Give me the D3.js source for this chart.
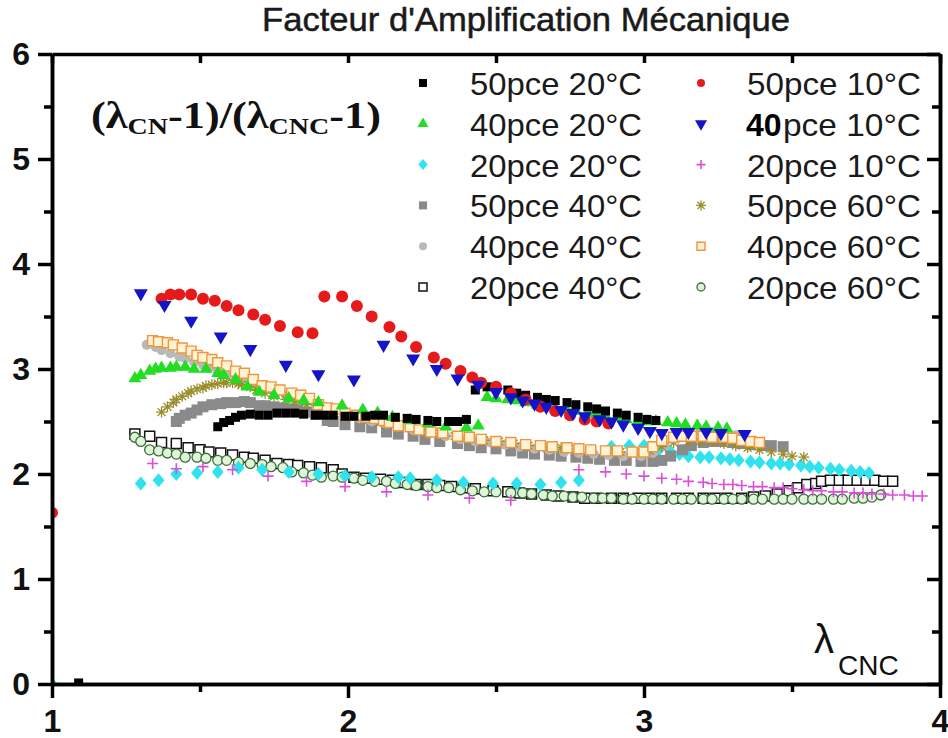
<!DOCTYPE html>
<html><head><meta charset="utf-8">
<script src="https://cdn.jsdelivr.net/npm/d3@7"></script>
<style>body{margin:0;background:#fff}svg{display:block}</style>
</head><body><svg id="c" width="948" height="738"></svg>
<script>
// ---------- DATA ----------
const chartTitle = "Facteur d'Amplification Mécanique";
const xMajorTicks = [1, 2, 3, 4];
const xMinorTicks = [1.5, 2.5, 3.5];
const yMajorTicks = [0, 1, 2, 3, 4, 5, 6];
const yMinorTicks = [0.5, 1.5, 2.5, 3.5, 4.5, 5.5];
const legendLeft = ["50pce 20°C", "40pce 20°C", "20pce 20°C", "50pce 40°C", "40pce 40°C", "20pce 40°C"];
const legendRight = ["50pce 10°C", "40pce 10°C", "20pce 10°C", "50pce 60°C", "40pce 60°C", "20pce 60°C"];

const s50_20 = [[1.09,0.01],[1.56,2.45],[1.58,2.49],[1.60,2.51],[1.62,2.54],[1.64,2.56],[1.67,2.57],[1.70,2.56],[1.73,2.56],[1.76,2.58],[1.79,2.58],[1.82,2.58],[1.85,2.57],[1.89,2.56],[1.92,2.56],[1.95,2.56],[1.99,2.55],[2.02,2.55],[2.06,2.55],[2.09,2.56],[2.12,2.56],[2.16,2.54],[2.20,2.53],[2.23,2.52],[2.27,2.51],[2.30,2.50],[2.34,2.50],[2.37,2.50],[2.40,2.52],[2.43,2.80],[2.47,2.83],[2.50,2.82],[2.54,2.80],[2.57,2.77],[2.60,2.75],[2.64,2.73],[2.67,2.71],[2.70,2.70],[2.74,2.68],[2.77,2.66],[2.81,2.64],[2.84,2.62],[2.87,2.60],[2.91,2.58],[2.94,2.56],[2.98,2.54],[3.01,2.52],[3.04,2.51]];
const s40_20 = [[1.28,2.91],[1.30,2.94],[1.33,2.98],[1.35,3.00],[1.37,3.01],[1.40,3.01],[1.42,3.02],[1.45,3.02],[1.48,3.00],[1.52,3.00],[1.56,2.96],[1.58,2.94],[1.62,2.90],[1.66,2.83],[1.70,2.78],[1.75,2.75],[1.80,2.72],[1.85,2.70],[1.90,2.68],[1.98,2.65],[2.05,2.61],[2.10,2.58],[2.15,2.54],[2.21,2.51],[2.27,2.48],[2.33,2.45],[2.40,2.44],[2.44,2.46],[2.47,2.73],[2.50,2.72],[2.54,2.71],[2.57,2.70],[2.60,2.68],[2.64,2.66],[2.67,2.65],[2.70,2.63],[2.74,2.61],[2.77,2.60],[2.81,2.58],[2.84,2.57],[2.87,2.55],[2.91,2.54],[2.94,2.52],[2.98,2.51],[3.01,2.50],[3.04,2.50],[3.08,2.49],[3.11,2.48],[3.14,2.47],[3.18,2.46],[3.21,2.45],[3.25,2.44],[3.28,2.43]];
const s20_20 = [[1.00,0.00],[1.30,1.91],[1.36,1.94],[1.42,2.00],[1.49,2.01],[1.56,2.02],[1.63,2.06],[1.71,2.04],[1.80,2.02],[1.90,2.00],[1.99,1.98],[2.08,1.97],[2.17,1.97],[2.21,1.96],[2.30,1.94],[2.39,1.92],[2.49,1.91],[2.57,1.91],[2.65,1.90],[2.72,1.92],[2.78,1.94],[2.89,2.26],[2.95,2.27],[3.00,2.27],[3.05,2.23],[3.09,2.21],[3.12,2.19],[3.15,2.17],[3.19,2.16],[3.22,2.16],[3.26,2.15],[3.29,2.14],[3.32,2.13],[3.36,2.12],[3.39,2.11],[3.43,2.10],[3.46,2.10],[3.49,2.09],[3.53,2.08],[3.56,2.07],[3.59,2.06],[3.63,2.05],[3.66,2.04],[3.70,2.03],[3.73,2.02],[3.76,2.01]];
const s50_40 = [[1.42,2.50],[1.43,2.53],[1.45,2.56],[1.47,2.58],[1.49,2.61],[1.51,2.64],[1.54,2.66],[1.57,2.67],[1.59,2.68],[1.62,2.68],[1.65,2.69],[1.67,2.68],[1.70,2.65],[1.72,2.65],[1.75,2.64],[1.78,2.63],[1.81,2.62],[1.83,2.61],[1.86,2.59],[1.89,2.57],[1.93,2.51],[1.95,2.50],[1.99,2.47],[2.04,2.45],[2.08,2.44],[2.13,2.40],[2.17,2.38],[2.22,2.36],[2.26,2.33],[2.31,2.31],[2.37,2.29],[2.41,2.27],[2.45,2.25],[2.50,2.24],[2.55,2.22],[2.59,2.20],[2.63,2.19],[2.68,2.18],[2.72,2.17],[2.77,2.16],[2.81,2.15],[2.85,2.14],[2.90,2.13],[2.94,2.13],[2.99,2.12],[3.03,2.12],[3.06,2.13],[3.09,2.17],[3.13,2.23],[3.16,2.27],[3.20,2.30],[3.23,2.31],[3.26,2.31],[3.30,2.30],[3.33,2.29],[3.36,2.28],[3.40,2.27],[3.43,2.27],[3.47,2.26]];
const s40_40 = [[1.32,3.23],[1.35,3.21],[1.37,3.18],[1.40,3.15],[1.43,3.12],[1.45,3.10],[1.48,3.07],[1.51,3.04],[1.53,3.01],[1.56,2.98],[1.59,2.95],[1.62,2.92],[1.64,2.90],[1.67,2.87],[1.70,2.84],[1.72,2.81],[1.75,2.78],[1.79,2.75],[1.82,2.72],[1.85,2.70],[1.89,2.67],[1.92,2.64],[1.95,2.61],[1.99,2.57],[2.04,2.53],[2.08,2.50],[2.13,2.48],[2.17,2.45],[2.22,2.42],[2.28,2.39],[2.33,2.36],[2.38,2.33],[2.43,2.31],[2.48,2.30],[2.53,2.28],[2.58,2.26],[2.63,2.24],[2.68,2.23],[2.73,2.21],[2.78,2.20],[2.83,2.19],[2.88,2.18],[2.93,2.17],[2.99,2.17],[3.03,2.20],[3.07,2.27],[3.11,2.34],[3.15,2.38],[3.19,2.40],[3.23,2.40],[3.27,2.39],[3.31,2.37]];
const s20_40 = [[1.28,2.38],[1.33,2.36],[1.37,2.30],[1.42,2.29],[1.46,2.25],[1.50,2.23],[1.53,2.21],[1.57,2.20],[1.61,2.18],[1.65,2.16],[1.68,2.15],[1.72,2.13],[1.76,2.10],[1.80,2.09],[1.83,2.08],[1.87,2.07],[1.91,2.06],[1.95,2.04],[1.98,2.00],[2.02,1.97],[2.06,1.96],[2.11,1.95],[2.15,1.94],[2.18,1.92],[2.23,1.90],[2.27,1.90],[2.31,1.89],[2.35,1.88],[2.39,1.87],[2.43,1.86],[2.49,1.84],[2.54,1.83],[2.58,1.82],[2.62,1.81],[2.67,1.80],[2.71,1.79],[2.76,1.78],[2.80,1.77],[2.84,1.77],[2.89,1.77],[2.93,1.77],[2.98,1.77],[3.02,1.77],[3.06,1.77],[3.11,1.77],[3.15,1.77],[3.20,1.77],[3.24,1.77],[3.28,1.77],[3.33,1.77],[3.37,1.78],[3.41,1.79],[3.45,1.81],[3.49,1.84],[3.52,1.87],[3.55,1.90],[3.58,1.91],[3.60,1.93],[3.63,1.94],[3.66,1.94],[3.69,1.94],[3.72,1.94],[3.75,1.94],[3.78,1.94],[3.81,1.93],[3.84,1.93]];
const s50_10 = [[1.00,1.63],[1.37,3.67],[1.40,3.71],[1.43,3.71],[1.47,3.71],[1.51,3.67],[1.55,3.65],[1.59,3.60],[1.63,3.56],[1.68,3.52],[1.72,3.47],[1.77,3.41],[1.83,3.35],[1.88,3.34],[1.92,3.69],[1.98,3.69],[2.03,3.60],[2.08,3.50],[2.14,3.40],[2.18,3.31],[2.23,3.21],[2.29,3.11],[2.33,3.05],[2.38,2.98],[2.42,2.92],[2.45,2.87],[2.50,2.83],[2.55,2.77],[2.60,2.71],[2.65,2.64],[2.70,2.60],[2.75,2.56],[2.80,2.52],[2.84,2.50],[2.88,2.48]];
const s40_10 = [[1.30,3.72],[1.38,3.61],[1.47,3.46],[1.57,3.31],[1.67,3.19],[1.79,3.04],[1.90,2.95],[2.02,2.90],[2.12,3.23],[2.22,3.10],[2.30,3.00],[2.37,2.91],[2.44,2.85],[2.50,2.78],[2.55,2.73],[2.59,2.70],[2.63,2.67],[2.67,2.64],[2.72,2.61],[2.76,2.58],[2.80,2.55],[2.85,2.52],[2.89,2.50],[2.93,2.47],[2.98,2.44],[3.02,2.41],[3.06,2.39],[3.11,2.40],[3.15,2.40],[3.21,2.40],[3.26,2.39],[3.34,2.38]];
const s20_10 = [[1.34,2.10],[1.42,2.05],[1.51,2.07],[1.61,2.04],[1.73,1.98],[1.86,1.93],[1.99,1.88],[2.13,1.83],[2.27,1.80],[2.41,1.77],[2.55,1.75],[2.78,2.04],[2.87,2.02],[2.94,2.00],[3.00,1.98],[3.06,1.96],[3.11,1.95],[3.15,1.93],[3.20,1.92],[3.23,1.91],[3.27,1.90],[3.30,1.90],[3.33,1.89],[3.37,1.88],[3.40,1.88],[3.44,1.87],[3.47,1.87],[3.50,1.86],[3.54,1.85],[3.57,1.84],[3.60,1.84],[3.64,1.83],[3.67,1.83],[3.71,1.82],[3.74,1.82],[3.77,1.81],[3.81,1.81],[3.84,1.80],[3.88,1.80],[3.91,1.79],[3.94,1.79]];
const s50_60 = [[1.37,2.59],[1.39,2.64],[1.41,2.68],[1.42,2.71],[1.44,2.74],[1.46,2.77],[1.47,2.79],[1.49,2.81],[1.51,2.82],[1.52,2.84],[1.54,2.85],[1.56,2.86],[1.58,2.87],[1.59,2.87],[1.61,2.87],[1.63,2.86],[1.64,2.85],[1.67,2.83],[1.69,2.80],[1.72,2.77],[1.75,2.74],[1.79,2.71],[1.82,2.69],[1.86,2.66],[1.90,2.63],[1.95,2.59],[2.00,2.56],[2.06,2.53],[2.11,2.50],[2.16,2.48],[2.21,2.45],[2.26,2.42],[2.31,2.39],[2.36,2.36],[2.41,2.34],[2.46,2.32],[2.51,2.31],[2.56,2.29],[2.61,2.27],[2.66,2.26],[2.72,2.25],[2.77,2.24],[2.82,2.23],[2.87,2.22],[2.92,2.21],[2.97,2.21],[3.02,2.22],[3.06,2.26],[3.10,2.30],[3.15,2.31],[3.19,2.31],[3.23,2.31],[3.27,2.29],[3.31,2.27],[3.35,2.25],[3.39,2.23],[3.43,2.21],[3.47,2.19],[3.50,2.17],[3.54,2.16]];
const s40_60 = [[1.34,3.27],[1.36,3.26],[1.39,3.25],[1.41,3.23],[1.44,3.20],[1.47,3.17],[1.49,3.13],[1.51,3.11],[1.54,3.09],[1.56,3.06],[1.59,3.03],[1.62,2.98],[1.65,2.96],[1.68,2.90],[1.71,2.84],[1.74,2.83],[1.77,2.80],[1.81,2.77],[1.84,2.75],[1.87,2.72],[1.90,2.66],[1.93,2.63],[1.96,2.62],[1.99,2.58],[2.03,2.56],[2.06,2.54],[2.09,2.53],[2.12,2.51],[2.14,2.49],[2.17,2.46],[2.21,2.45],[2.24,2.42],[2.28,2.40],[2.32,2.39],[2.37,2.36],[2.41,2.35],[2.45,2.33],[2.50,2.31],[2.55,2.30],[2.60,2.28],[2.65,2.27],[2.69,2.26],[2.74,2.25],[2.78,2.24],[2.82,2.23],[2.87,2.22],[2.91,2.22],[2.96,2.21],[3.00,2.21],[3.03,2.26],[3.06,2.32],[3.10,2.35],[3.13,2.36],[3.16,2.36],[3.20,2.36],[3.23,2.35],[3.27,2.35],[3.30,2.34],[3.33,2.32],[3.36,2.31],[3.39,2.30]];
const s20_60 = [[1.28,2.35],[1.30,2.31],[1.33,2.23],[1.36,2.22],[1.39,2.20],[1.42,2.19],[1.45,2.16],[1.49,2.16],[1.52,2.15],[1.56,2.13],[1.59,2.13],[1.63,2.11],[1.67,2.10],[1.71,2.09],[1.74,2.07],[1.78,2.06],[1.81,2.02],[1.85,2.01],[1.88,1.99],[1.91,1.97],[1.95,1.98],[1.98,1.97],[2.02,1.96],[2.05,1.94],[2.09,1.93],[2.13,1.93],[2.16,1.91],[2.20,1.90],[2.23,1.89],[2.27,1.88],[2.30,1.87],[2.34,1.87],[2.38,1.85],[2.42,1.84],[2.46,1.83],[2.50,1.83],[2.55,1.82],[2.59,1.82],[2.62,1.81],[2.66,1.80],[2.69,1.79],[2.73,1.79],[2.76,1.78],[2.79,1.78],[2.83,1.77],[2.86,1.77],[2.89,1.77],[2.93,1.76],[2.96,1.76],[3.00,1.76],[3.03,1.76],[3.06,1.76],[3.10,1.76],[3.13,1.76],[3.16,1.76],[3.20,1.76],[3.23,1.76],[3.27,1.76],[3.30,1.76],[3.33,1.76],[3.37,1.76],[3.40,1.76],[3.44,1.76],[3.47,1.76],[3.50,1.76],[3.54,1.76],[3.57,1.76],[3.60,1.76],[3.64,1.76],[3.67,1.76],[3.71,1.77],[3.74,1.77],[3.77,1.78],[3.80,1.80]];

// ---------- CHART ----------
const svg = d3.select("#c");
const x = d3.scaleLinear().domain([1, 4]).range([52, 940]);
const y = d3.scaleLinear().domain([0, 6]).range([684, 54]);

const series = [
  {name: "20pce 40°C", data: s20_40, shape: "square", size: 10, fill: "#ffffff", stroke: "#111", sw: 1.5},
  {name: "20pce 60°C", data: s20_60, shape: "circle", size: 10, fill: "#dff5d8", stroke: "#3b6e3b", sw: 1.3},
  {name: "20pce 20°C", data: s20_20, shape: "diamond", size: 14, fill: "#2ee3ee", stroke: "none", sw: 0},
  {name: "20pce 10°C", data: s20_10, shape: "plus", size: 11, fill: "none", stroke: "#d84fd8", sw: 1.6},
  {name: "50pce 40°C", data: s50_40, shape: "square", size: 11, fill: "#8a8a8a", stroke: "none", sw: 0},
  {name: "40pce 40°C", data: s40_40, shape: "circle", size: 10, fill: "#b9b9b9", stroke: "none", sw: 0},
  {name: "50pce 60°C", data: s50_60, shape: "asterisk", size: 11, fill: "none", stroke: "#9b8d2a", sw: 1.3},
  {name: "40pce 60°C", data: s40_60, shape: "square", size: 10, fill: "#fff3d6", stroke: "#f0953c", sw: 1.4},
  {name: "40pce 20°C", data: s40_20, shape: "triUp", size: 13, fill: "#22dd22", stroke: "none", sw: 0},
  {name: "50pce 20°C", data: s50_20, shape: "square", size: 9, fill: "#000", stroke: "none", sw: 0},
  {name: "50pce 10°C", data: s50_10, shape: "circle", size: 12, fill: "#e61a1a", stroke: "none", sw: 0},
  {name: "40pce 10°C", data: s40_10, shape: "triDown", size: 14, fill: "#1414c8", stroke: "none", sw: 0}
];

function markerPath(shape, s) {
  const h = s / 2;
  switch (shape) {
    case "square": return `M${-h},${-h}H${h}V${h}H${-h}Z`;
    case "circle": return `M${h},0A${h},${h} 0 1,1 ${-h},0A${h},${h} 0 1,1 ${h},0Z`;
    case "diamond": return `M0,${-h}L${h*0.85},0L0,${h}L${-h*0.85},0Z`;
    case "triUp": { const t = s * 0.866; return `M0,${-t*2/3}L${h},${t/3}L${-h},${t/3}Z`; }
    case "triDown": { const t = s * 0.866; return `M0,${t*2/3}L${h},${-t/3}L${-h},${-t/3}Z`; }
    case "plus": return `M${-h},0H${h}M0,${-h}V${h}`;
    case "asterisk": { const d = h * 0.72; return `M${-h},0H${h}M0,${-h}V${h}M${-d},${-d}L${d},${d}M${-d},${d}L${d},${-d}`; }
  }
}

svg.append("defs").append("clipPath").attr("id", "clip")
  .append("rect").attr("x", 52).attr("y", 54).attr("width", 888).attr("height", 630);

const plot = svg.append("g").attr("clip-path", "url(#clip)");
series.forEach(s => {
  plot.append("g").selectAll("path").data(s.data).join("path")
    .attr("d", markerPath(s.shape, s.size))
    .attr("transform", d => `translate(${x(d[0])},${y(d[1])})`)
    .attr("fill", s.fill).attr("stroke", s.stroke).attr("stroke-width", s.sw);
});

// ---------- AXES ----------
const axisStyle = g => {
  g.selectAll("path.domain").attr("stroke", "#000").attr("stroke-width", 3.5);
  g.selectAll(".tick line").attr("stroke", "#000").attr("stroke-width", 3.5);
  g.selectAll(".tick text").attr("font-family", "Arial, 'Liberation Sans', sans-serif")
    .attr("font-weight", "bold").attr("font-size", 32).attr("fill", "#111");
};
svg.append("g").attr("transform", "translate(0,684)")
  .call(d3.axisBottom(x).tickValues(xMinorTicks).tickSize(8).tickSizeOuter(0).tickFormat(""))
  .call(axisStyle);
svg.append("g").attr("transform", "translate(0,684)")
  .call(d3.axisBottom(x).tickValues(xMajorTicks).tickSize(14).tickSizeOuter(0).tickPadding(11).tickFormat(d3.format("d")))
  .call(axisStyle);
svg.append("g").attr("transform", "translate(52,0)")
  .call(d3.axisLeft(y).tickValues(yMinorTicks).tickSize(8).tickSizeOuter(0).tickFormat(""))
  .call(axisStyle);
svg.append("g").attr("transform", "translate(52,0)")
  .call(d3.axisLeft(y).tickValues(yMajorTicks).tickSize(14).tickSizeOuter(0).tickPadding(8).tickFormat(d3.format("d")))
  .call(axisStyle);
svg.append("g").attr("transform", "translate(0,54)")
  .call(d3.axisBottom(x).tickValues(xMajorTicks.concat(xMinorTicks)).tickSize(9).tickSizeOuter(0).tickFormat(""))
  .call(axisStyle);
svg.append("g").attr("transform", "translate(940,0)")
  .call(d3.axisLeft(y).tickValues(yMinorTicks).tickSize(8).tickSizeOuter(0).tickFormat(""))
  .call(axisStyle);
svg.append("g").attr("transform", "translate(940,0)")
  .call(d3.axisLeft(y).tickValues(yMajorTicks).tickSize(13).tickSizeOuter(0).tickFormat(""))
  .call(axisStyle);

// ---------- TITLE ----------
svg.append("text").attr("x", 262).attr("y", 31)
  .attr("font-family", "'Liberation Sans Narrow', 'Arial Narrow', Arial, sans-serif").attr("font-size", 33)
  .attr("fill", "#1a1a1a").attr("stroke", "#1a1a1a").attr("stroke-width", 0.5)
  .attr("textLength", 528).attr("lengthAdjust", "spacingAndGlyphs")
  .text(chartTitle);

// ---------- Y LABEL ----------
const yl = svg.append("text").attr("x", 0).attr("y", 0)
  .attr("font-family", "'Liberation Serif', 'Times New Roman', serif").attr("font-weight", "bold")
  .attr("font-size", 38).attr("fill", "#111");
yl.append("tspan").text("(λ");
yl.append("tspan").attr("font-size", 24).attr("dy", 6).text("CN");
yl.append("tspan").attr("dy", -6).text("-1)/(λ");
yl.append("tspan").attr("font-size", 24).attr("dy", 6).text("CNC");
yl.append("tspan").attr("dy", -6).text("-1)");
{
  const bb = yl.node().getBBox();
  const sx = 290 / bb.width;
  yl.attr("transform", `translate(${91 - bb.x * sx},128) scale(${sx},1)`);
}

// ---------- X LABEL ----------
const xl = svg.append("g").attr("font-family", "Arial, 'Liberation Sans', sans-serif").attr("fill", "#111");
xl.append("text").attr("x", 814).attr("y", 653).attr("font-size", 40).text("λ");
xl.append("text").attr("x", 838).attr("y", 675).attr("font-size", 28).text("CNC");

// ---------- LEGEND ----------
const legendFont = "Arial, 'Liberation Sans', sans-serif";
const rowY = i => 83 + i * 40.8;
const legendCols = [
  {names: legendLeft, mx: 423, tx: 470, tw: 172},
  {names: legendRight, mx: 701, tx: 747, tw: 174}
];
const legSize = {square: 8, circle: 8, diamond: 11, plus: 9, asterisk: 10, triUp: 11, triDown: 12};
legendCols.forEach(col => {
  col.names.forEach((nm, i) => {
    const s = series.find(d => d.name === nm);
    const cy = rowY(i);
    svg.append("path").attr("d", markerPath(s.shape, legSize[s.shape]))
      .attr("transform", `translate(${col.mx},${cy})`)
      .attr("fill", s.fill).attr("stroke", s.stroke).attr("stroke-width", s.sw);
    if (nm === "40pce 10°C") {
      svg.append("text").attr("x", col.tx - 1).attr("y", cy + 12)
        .attr("font-family", legendFont).attr("font-weight", "bold").attr("font-size", 32).attr("fill", "#000")
        .text(nm.slice(0, 2));
      svg.append("text").attr("x", col.tx + 36).attr("y", cy + 12)
        .attr("font-family", legendFont).attr("font-size", 32).attr("fill", "#1a1a1a")
        .attr("textLength", 138).attr("lengthAdjust", "spacingAndGlyphs")
        .text(nm.slice(2));
    } else {
      svg.append("text").attr("x", col.tx).attr("y", cy + 12)
        .attr("font-family", legendFont).attr("font-size", 32).attr("fill", "#1a1a1a")
        .attr("textLength", col.tw).attr("lengthAdjust", "spacingAndGlyphs")
        .text(nm);
    }
  });
});
</script>
</body></html>
